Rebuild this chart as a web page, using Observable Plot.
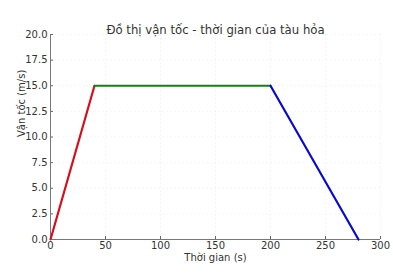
<!DOCTYPE html>
<html><head><meta charset="utf-8">
<script src="https://cdn.jsdelivr.net/npm/d3@7"></script>
<script src="https://cdn.jsdelivr.net/npm/@observablehq/plot@0.6"></script>
<style>body{margin:0;background:#fff;font-family:"DejaVu Sans",sans-serif}</style>
</head><body><div id="chart"></div>
<script>
const title = "Đồ thị vận tốc - thời gian của tàu hỏa";
const xLabel = "Thời gian (s)";
const yLabel = "Vận tốc (m/s)";
const times = [0, 40, 200, 280];
const speeds = [0, 15, 15, 0];
const segmentNames = ["accelerate", "constant", "decelerate"];
const segmentColors = ["#d40f1e", "#1f7a1f", "#0a0ac8"];
const xTicks = [0, 50, 100, 150, 200, 250, 300];
const yTicks = [0, 2.5, 5, 7.5, 10, 12.5, 15, 17.5, 20];

const pts = [];
segmentNames.forEach((s, i) => {
  pts.push({seg: s, t: times[i], v: speeds[i]});
  pts.push({seg: s, t: times[i+1], v: speeds[i+1]});
});

const plot = Plot.plot({
  width: 393, height: 275,
  marginLeft: 50, marginRight: 13, marginTop: 34, marginBottom: 36,
  style: {fontFamily: "DejaVu Sans", fontSize: "10px", color: "#333", background: "#fff"},
  x: {domain: [0, 300], ticks: xTicks, label: null},
  y: {domain: [0, 20], ticks: yTicks, label: null},
  color: {domain: segmentNames, range: segmentColors},
  marks: [
    Plot.gridX(xTicks, {stroke: "#ddd", strokeOpacity: 0.6, strokeDasharray: "2,2", strokeWidth: 0.5}),
    Plot.gridY(yTicks, {stroke: "#ddd", strokeOpacity: 0.6, strokeDasharray: "2,2", strokeWidth: 0.5}),
    Plot.axisX({ticks: xTicks, tickSize: -3, tickPadding: 5, tickFormat: d => d, fontSize: 10, fill: "#333", stroke: "#666"}),
    Plot.axisY({ticks: yTicks, tickSize: -3, tickPadding: 6, tickFormat: d3.format(".1f"), fontSize: 10, fill: "#333", stroke: "#666"}),
    Plot.ruleX([0], {stroke: "#777", strokeWidth: 1}),
    Plot.ruleY([0], {stroke: "#777", strokeWidth: 1}),
    Plot.line(pts, {x: "t", y: "v", z: "seg", stroke: "seg", strokeWidth: 2.2}),
    Plot.text([title], {frameAnchor: "top", dy: -9, fontSize: 11.7, fill: "#333"}),
    Plot.text([xLabel], {frameAnchor: "bottom", lineAnchor: "top", dy: 14, fontSize: 10, fill: "#333"}),
    Plot.text([yLabel], {frameAnchor: "left", dx: -29, rotate: -90, fontSize: 10, fill: "#333"})
  ]
});
document.getElementById("chart").append(plot);
</script></body></html>
